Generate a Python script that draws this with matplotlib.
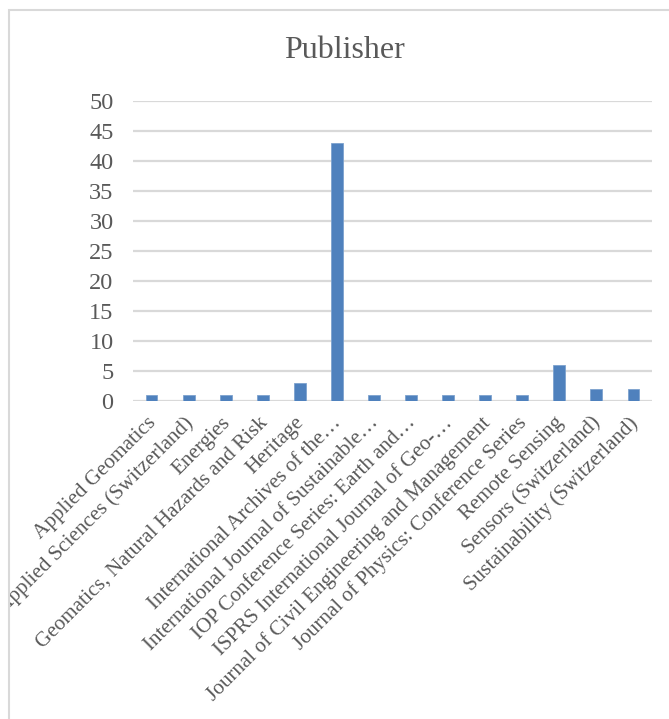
import matplotlib.pyplot as plt
from matplotlib.patches import Rectangle
from matplotlib.transforms import ScaledTranslation, Bbox, TransformedBbox

plt.rcParams['font.family'] = ['Liberation Serif', 'DejaVu Serif']

publishers = [
    'Applied Geomatics',
    'Applied Sciences (Switzerland)',
    'Energies',
    'Geomatics, Natural Hazards and Risk',
    'Heritage',
    'International Archives of the\u2026',
    'International Journal of Sustainable\u2026',
    'IOP Conference Series: Earth and\u2026',
    'ISPRS International Journal of Geo-\u2026',
    'Journal of Civil Engineering and Management',
    'Journal of Physics: Conference Series',
    'Remote Sensing',
    'Sensors (Switzerland)',
    'Sustainability (Switzerland)',
]
counts = [1, 1, 1, 1, 3, 43, 1, 1, 1, 1, 1, 6, 2, 2]
yticks = [0, 5, 10, 15, 20, 25, 30, 35, 40, 45, 50]

txt = '#595959'
W, H = 669, 719
fig = plt.figure(figsize=(W / 100, H / 100), dpi=100)

# chart-area border (Excel style)
fig.patches.append(Rectangle((9 / W, -0.1), 1.0, 1 - 10 / H + 0.1,
                             transform=fig.transFigure, fill=False,
                             edgecolor='#D9D9D9', linewidth=1.5))

ax = fig.add_axes([133 / W, 1 - 401 / H, 519 / W, 300 / H])
x = range(len(publishers))
ax.bar(x, counts, width=0.32, color='#4F81BD', edgecolor='#7DA2CE',
       linewidth=0.6, zorder=3)
ax.set_xlim(-0.5, len(publishers) - 0.5)
ax.set_ylim(0, 50)
ax.set_yticks(yticks)
ax.yaxis.grid(True, color='#D9D9D9', linewidth=1.6, zorder=0)
for s in ax.spines.values():
    s.set_visible(False)
ax.tick_params(axis='both', length=0, colors=txt)
ax.tick_params(axis='y', pad=14, labelsize=17.5)
ax.set_xticks(list(x))
ax.set_xticklabels(publishers, rotation=45, ha='right', va='top',
                   rotation_mode='anchor', fontsize=15.2, color=txt)
ax.tick_params(axis='x', pad=9)
shift = ScaledTranslation(-5 / 100, 0, fig.dpi_scale_trans)
# labels are clipped by the chart-area border, as in the spreadsheet export
clip = TransformedBbox(Bbox([[10 / W, 0], [1, 1]]), fig.transFigure)
for lab in ax.get_xticklabels():
    lab.set_transform(lab.get_transform() + shift)
    lab.set_clip_on(True)
    lab.set_clip_box(clip)

fig.text(0.5 + 10 / W, 1 - 50 / H, 'Publisher', ha='center', va='center',
         fontsize=23, color=txt)

fig.savefig('out.png', dpi=100)
